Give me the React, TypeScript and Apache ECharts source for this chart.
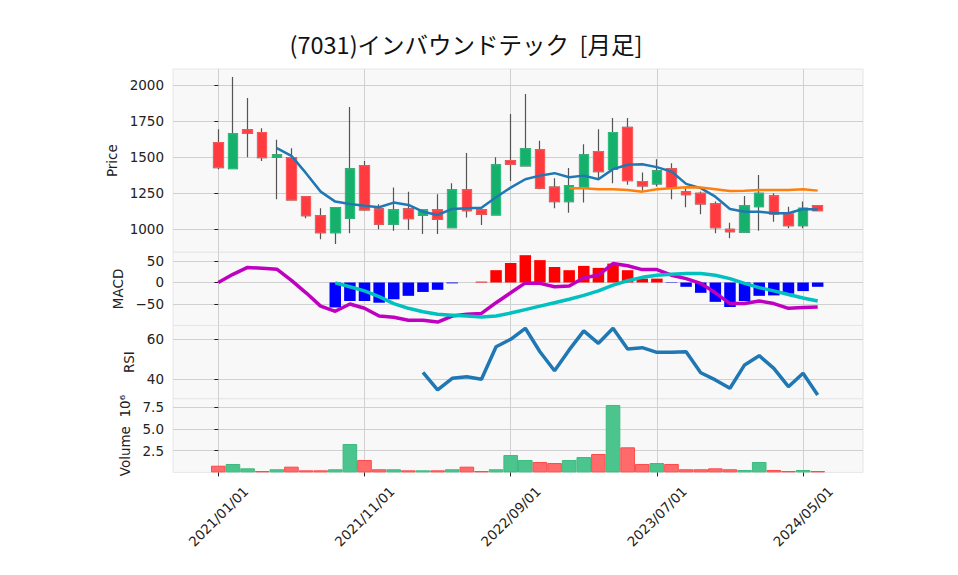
import React, { useEffect, useRef } from 'react';
import * as echarts from 'echarts';

const months = [
  '2021/01/01','2021/02/01','2021/03/01','2021/04/01','2021/05/01','2021/06/01','2021/07/01','2021/08/01','2021/09/01','2021/10/01','2021/11/01','2021/12/01',
  '2022/01/01','2022/02/01','2022/03/01','2022/04/01','2022/05/01','2022/06/01','2022/07/01','2022/08/01','2022/09/01','2022/10/01','2022/11/01','2022/12/01',
  '2023/01/01','2023/02/01','2023/03/01','2023/04/01','2023/05/01','2023/06/01','2023/07/01','2023/08/01','2023/09/01','2023/10/01','2023/11/01','2023/12/01',
  '2024/01/01','2024/02/01','2024/03/01','2024/04/01','2024/05/01','2024/06/01',
];

const opens = [1601,1421,1689,1671,1500,1497,1226,1094,976,1076,1440,1141,1035,1141,1097,1134,1011,1273,1134,1099,1476,1440,1551,1292,1192,1292,1539,1417,1706,1331,1315,1419,1259,1250,1176,1000,981,1157,1231,1106,1025,1164];
const closes = [1428,1662,1667,1497,1516,1203,1094,976,1150,1419,1134,1035,1134,1074,1134,1069,1273,1129,1104,1447,1451,1558,1285,1192,1301,1516,1400,1671,1338,1301,1405,1285,1240,1176,1011,983,1162,1250,1106,1025,1146,1129];
const lows = [1417,1421,1500,1474,1208,1199,1076,931,898,972,1129,1000,990,995,967,967,1011,1081,1030,1099,1335,1440,1278,1146,1115,1185,1354,1319,1308,1268,1296,1208,1153,1104,972,938,976,990,1053,1007,1007,1129];
const highs = [1694,2056,1910,1701,1620,1562,1226,1146,1150,1847,1474,1174,1289,1261,1134,1243,1319,1528,1134,1500,1799,1937,1613,1354,1424,1590,1694,1771,1771,1393,1486,1458,1285,1262,1192,1046,1231,1377,1250,1157,1192,1164];

const ma5 = [null,null,null,null,1562,1509,1389,1261,1192,1176,1164,1153,1185,1169,1122,1099,1141,1146,1150,1222,1289,1347,1372,1389,1361,1372,1347,1417,1447,1451,1431,1400,1315,1285,1226,1141,1122,1122,1111,1111,1141,1138];
const ma25 = [null,null,null,null,null,null,null,null,null,null,null,null,null,null,null,null,null,null,null,null,null,null,null,null,1285,1285,1278,1278,1273,1261,1278,1285,1292,1290,1278,1266,1268,1273,1273,1273,1278,1268];

const macdLine = [0,19,35,33,31,5,-24,-55,-67,-50,-60,-78,-81,-88,-88,-92,-78,-74,-72,-47,-24,-1,-2,-10,-8,11,17,44,39,30,30,17,9,-2,-24,-49,-49,-43,-49,-60,-58,-57];
const signalLine = [null,null,null,null,null,null,null,null,-1,-10,-19.5,-33,-49,-60,-68,-74,-76,-78,-80,-78,-71,-63,-55,-47,-39,-30,-19.5,-6,4,12,17,19,21,21,17,9,-2,-12,-19.5,-28,-36,-43];
const macdHist = [null,null,null,null,null,null,null,null,-58,-43,-43,-47,-39,-31,-22,-17,-2,0,2,28.6,45.6,63.5,52,36,28.6,38.6,34,44,28.6,9,9,-1,-10,-24,-45,-57,-43,-31,-30,-26,-20,-10];

const rsi = [null,null,null,null,null,null,null,null,null,null,null,null,null,null,43.5,34.7,40.5,41.3,40,56.3,60,65.5,53.8,44.3,54.7,64.2,58,65.5,55.2,55.8,53.5,53.5,53.8,43.3,39.7,35.5,47.2,51.8,45.5,36.3,43,32.2];

const volume = [0.77,0.97,0.47,0.16,0.36,0.66,0.24,0.24,0.36,3.27,1.43,0.36,0.36,0.24,0.24,0.24,0.36,0.66,0.16,0.36,2.0,1.43,1.2,1.08,1.43,1.77,2.12,7.77,2.89,0.97,1.08,0.97,0.36,0.36,0.47,0.36,0.28,1.2,0.28,0.16,0.28,0.16];
const volumeUp = [0,1,1,0,1,0,0,0,1,1,0,0,1,0,1,0,1,0,0,1,1,1,0,0,1,1,0,1,0,0,1,0,0,0,0,0,1,1,0,0,1,0];

const xTicks = [0, 10, 20, 30, 40];
const priceTicks = [1000, 1250, 1500, 1750, 2000];
const macdTicks = [-50, 0, 50];
const rsiTicks = [40, 60];
const volTicks = [2.5, 5, 7.5];

const UP = '#14b06c';
const DOWN = '#ff3b3f';
const TEXT = '#222';
const FONT = 'DejaVu Sans';
const FS = 13.5;

const pts = (arr: (number | null)[]) =>
  arr.map((v, i) => (v == null ? null : [i, v])).filter((p) => p !== null);

export default function App() {
  const ref = useRef<HTMLDivElement>(null);
  useEffect(() => {
    if (!ref.current) return;
    const chart = echarts.init(ref.current, null, { renderer: 'svg' });
    const LEFT = 173;
    const WIDTH = 690;
    const panels = [
      { top: 69, height: 183.3 },
      { top: 252.3, height: 73.2 },
      { top: 325.5, height: 73.3 },
      { top: 398.8, height: 73.6 },
    ];
    const yRanges = [
      { min: 840.6, max: 2110.9, ticks: priceTicks, name: 'Price', gap: 50, fmt: (v: number) => String(v) },
      { min: -100, max: 70.2, ticks: macdTicks, name: 'MACD', gap: 42, fmt: (v: number) => (v < 0 ? '\u2212' + Math.abs(v) : String(v)) },
      { min: 30.25, max: 66.9, ticks: rsiTicks, name: 'RSI', gap: 33, fmt: (v: number) => String(v) },
      { min: 0, max: 8.48, ticks: volTicks, name: 'Volume  10\u2076', gap: 39, fmt: (v: number) => v.toFixed(1) },
    ];
    const grids = panels.map((p) => ({
      left: LEFT, top: p.top, width: WIDTH, height: p.height,
      show: true, backgroundColor: '#f8f8f8', borderColor: '#e6e6e6', borderWidth: 1,
    }));
    const xAxes = panels.map((_, i) => ({
      type: 'value', gridIndex: i, min: -3.1, max: 44.1,
      axisLine: { show: false },
      axisTick: { show: i === 3, customValues: xTicks, length: 4, lineStyle: { color: TEXT } },
      axisLabel: {
        show: i === 3, customValues: xTicks,
        formatter: (v: number) => months[Math.round(v)] ?? '',
        rotate: 45, align: 'center', verticalAlign: 'middle', margin: 44,
        fontSize: FS, color: TEXT, fontFamily: FONT,
      },
      splitLine: { show: true, lineStyle: { color: '#d0d0d0', width: 1 } },
    }));
    const yAxes = yRanges.map((r, i) => ({
      type: 'value', gridIndex: i, min: r.min, max: r.max,
      axisLine: { show: false },
      axisTick: { show: true, customValues: r.ticks, length: 4, lineStyle: { color: TEXT } },
      axisLabel: { customValues: r.ticks, formatter: r.fmt, margin: 9, fontSize: FS, color: TEXT, fontFamily: FONT },
      splitLine: { show: true, lineStyle: { color: '#d0d0d0', width: 1 } },
      name: r.name, nameLocation: 'middle', nameGap: r.gap,
      nameTextStyle: { fontSize: FS, color: TEXT, fontFamily: FONT },
    }));

    const wickData = opens.map((o, i) => [i, o, closes[i], lows[i], highs[i]]);
    const bodyData = opens.map((o, i) => [i, o, closes[i], Math.min(o, closes[i]), Math.max(o, closes[i])]);

    const histData = macdHist
      .map((v, i) => (v == null ? null : {
        value: [i, v],
        itemStyle: { color: v >= 0 ? '#ff0000' : '#0000ff' },
      }))
      .filter((d) => d !== null);

    const volData = volume.map((v, i) => ({
      value: [i, v],
      itemStyle: {
        color: volumeUp[i] ? '#4bc58d' : '#ff6b6b',
        borderColor: volumeUp[i] ? '#3dbb80' : '#ff4a4a',
        borderWidth: 1,
      },
    }));

    const lineStyle = (color: string, width: number) => ({
      type: 'line', showSymbol: false, symbol: 'none', lineStyle: { color, width }, itemStyle: { color },
    });

    chart.setOption({
      animation: false,
      grid: grids,
      xAxis: xAxes,
      yAxis: yAxes,
      graphic: [
        {
          type: 'text', x: 466, y: 44,
          style: {
            text: '(7031)インバウンドテック  [月足]',
            textAlign: 'center', textVerticalAlign: 'middle',
            fontSize: 23.5, fontFamily: 'Noto Sans CJK JP', fill: '#111',
          },
        },
      ],
      series: [
        {
          type: 'candlestick', xAxisIndex: 0, yAxisIndex: 0, data: wickData,
          encode: { x: 0, y: [1, 2, 3, 4] }, barWidth: 10,
          itemStyle: { color: '#555', color0: '#555', borderColor: '#555', borderColor0: '#555', borderWidth: 1.2 },
        },
        {
          type: 'candlestick', xAxisIndex: 0, yAxisIndex: 0, data: bodyData,
          encode: { x: 0, y: [1, 2, 3, 4] }, barWidth: 10,
          itemStyle: { color: UP, color0: DOWN, borderColor: '#2cc07f', borderColor0: '#ff5a5a', borderWidth: 1 },
        },
        { ...lineStyle('#1f77b4', 2.5), xAxisIndex: 0, yAxisIndex: 0, data: pts(ma5) },
        { ...lineStyle('#ff7f0e', 2.5), xAxisIndex: 0, yAxisIndex: 0, data: pts(ma25) },
        { type: 'bar', xAxisIndex: 1, yAxisIndex: 1, data: histData, barWidth: 11.5 },
        { ...lineStyle('#c000c0', 3.5), xAxisIndex: 1, yAxisIndex: 1, data: pts(macdLine) },
        { ...lineStyle('#00c0c0', 3.5), xAxisIndex: 1, yAxisIndex: 1, data: pts(signalLine) },
        { ...lineStyle('#1f77b4', 3.5), xAxisIndex: 2, yAxisIndex: 2, data: pts(rsi) },
        { type: 'bar', xAxisIndex: 3, yAxisIndex: 3, data: volData, barWidth: 14.6 },
      ],
    });
    return () => chart.dispose();
  }, []);
  return <div ref={ref} style={{ position: 'fixed', left: 0, top: 0, width: 958, height: 575, background: '#fff' }} />;
}
